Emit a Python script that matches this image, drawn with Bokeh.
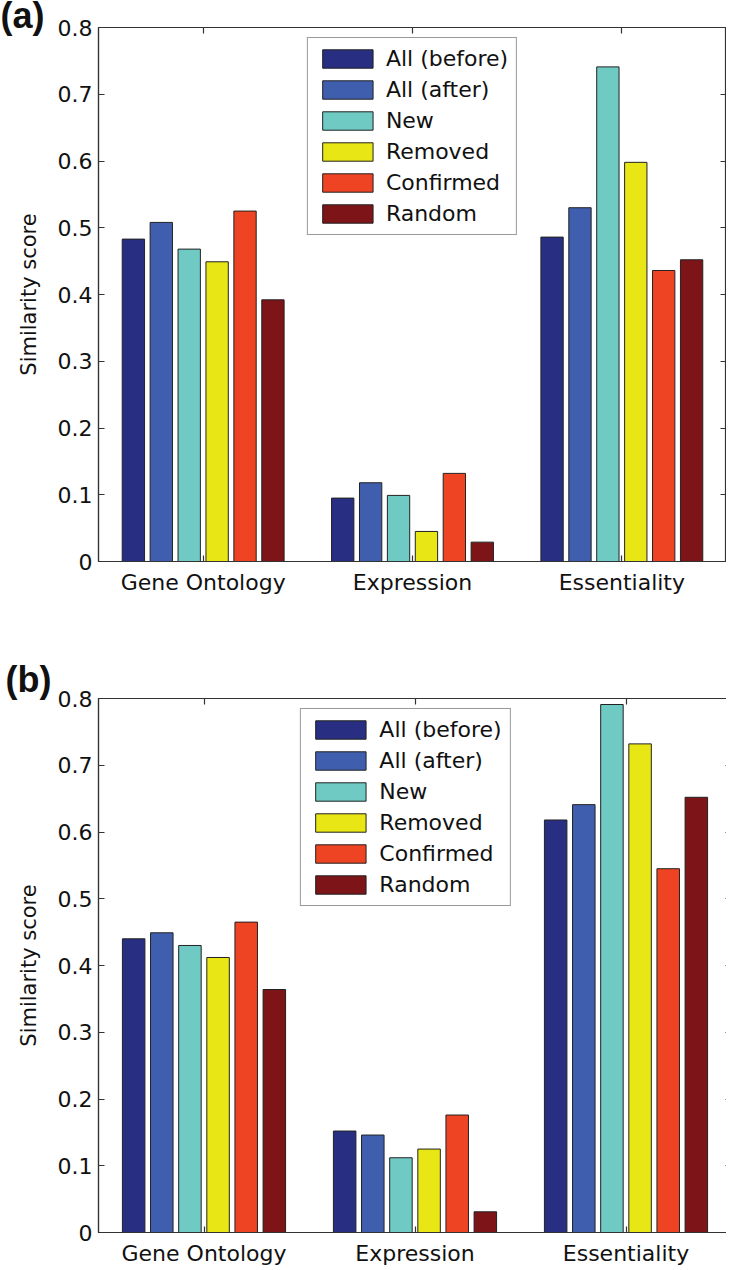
from bokeh.plotting import figure
from bokeh.models import (FixedTicker, LinearAxis, Range1d, Legend,
                          LegendItem, ColumnDataSource, Title)
from bokeh.layouts import column
from bokeh.transform import dodge
from bokeh.embed import file_html
from bokeh.resources import INLINE

# ---------------- data ----------------
categories = ["Gene Ontology", "Expression", "Essentiality"]
series = ["All (before)", "All (after)", "New", "Removed", "Confirmed", "Random"]
colors = ["#282f82", "#3f5fae", "#70cac4", "#e9e615", "#ee4423", "#7c1418"]

y_ticks = [0.0, 0.1, 0.2, 0.3, 0.4, 0.5, 0.6, 0.7, 0.8]
y_tick_labels = ["0", "0.1", "0.2", "0.3", "0.4", "0.5", "0.6", "0.7", "0.8"]

# panel (a): one list per category, values in series order
a_gene_ontology = [0.483, 0.508, 0.468, 0.449, 0.525, 0.392]
a_expression = [0.095, 0.118, 0.099, 0.045, 0.132, 0.029]
a_essentiality = [0.486, 0.530, 0.741, 0.598, 0.436, 0.452]

# panel (b)
b_gene_ontology = [0.440, 0.449, 0.430, 0.412, 0.465, 0.364]
b_expression = [0.152, 0.146, 0.112, 0.125, 0.176, 0.031]
b_essentiality = [0.618, 0.641, 0.791, 0.732, 0.545, 0.652]

FONT = "DejaVu Sans"
AX = "#333333"
FRAME_H = 534


def make_panel(cat_values, tag, frame_left, frame_width, top_border,
               bottom_border, tag_standoff, tag_valign):
    p = figure(output_backend="svg", toolbar_location=None,
               frame_width=frame_width, frame_height=FRAME_H,
               x_range=Range1d(0.5, 3.5), y_range=Range1d(0, 0.8),
               x_axis_type=None, y_axis_type=None,
               min_border_left=frame_left, min_border_right=0,
               min_border_top=top_border, min_border_bottom=bottom_border)
    p.grid.visible = False
    p.outline_line_color = AX
    p.outline_line_width = 1.2
    p.background_fill_color = "white"
    p.border_fill_color = "white"

    xpos = list(range(1, len(categories) + 1))
    cat_ticker = FixedTicker(ticks=xpos)
    y_ticker = FixedTicker(ticks=y_ticks)

    def style(ax, labels=True):
        ax.axis_line_color = AX
        ax.axis_line_width = 1.2
        ax.major_tick_line_color = AX
        ax.major_tick_line_width = 1.2
        ax.major_tick_in = 6
        ax.major_tick_out = 0
        ax.minor_tick_line_color = None
        if labels:
            ax.major_label_text_font = FONT
            ax.major_label_text_font_size = "22px"
            ax.major_label_text_color = "#111111"
        else:
            ax.major_label_text_font_size = "0px"
            ax.major_label_standoff = 0

    bottom = LinearAxis(ticker=cat_ticker,
                        major_label_overrides={x: c for x, c in zip(xpos, categories)})
    style(bottom)
    bottom.major_label_standoff = 8
    p.add_layout(bottom, "below")

    left = LinearAxis(ticker=y_ticker,
                      major_label_overrides={t: l for t, l in zip(y_ticks, y_tick_labels)},
                      axis_label="Similarity score")
    style(left)
    left.major_label_standoff = 6
    left.axis_label_text_font = FONT
    left.axis_label_text_font_size = "21px"
    left.axis_label_text_font_style = "normal"
    left.axis_label_text_color = "#111111"
    left.axis_label_standoff = 14
    p.add_layout(left, "left")

    top = LinearAxis(ticker=cat_ticker)
    style(top, labels=False)
    p.add_layout(top, "above")

    right = LinearAxis(ticker=y_ticker)
    style(right, labels=False)
    p.add_layout(right, "right")

    n = len(series)
    group = 0.8
    step = group / n
    width = step * 0.8
    items = []
    for i, (name, col) in enumerate(zip(series, colors)):
        tops = [vals[i] for vals in cat_values]
        src = ColumnDataSource(dict(x=xpos, top=tops))
        off = (i - (n - 1) / 2) * step
        r = p.vbar(x=dodge("x", off), top="top", bottom=0, width=width,
                   source=src, fill_color=col, line_color="#222222",
                   line_width=1)
        items.append(LegendItem(label=name, renderers=[r]))

    legend = Legend(items=items, location="top_center", margin=10,
                    padding=8, spacing=6, glyph_width=63, glyph_height=23,
                    label_height=23, label_standoff=7,
                    label_text_font=FONT, label_text_font_size="22px",
                    label_text_color="#111111",
                    border_line_color=AX, border_line_width=1.2,
                    background_fill_color="white", background_fill_alpha=1)
    p.add_layout(legend)

    t = Title(text=tag, align="left", offset=-frame_left, standoff=tag_standoff,
              vertical_align=tag_valign,
              text_font="Liberation Sans", text_font_style="bold",
              text_font_size="36px", text_color="#111111")
    p.add_layout(t, "above")
    return p


pa = make_panel([a_gene_ontology, a_expression, a_essentiality], "(a)",
                frame_left=98, frame_width=628, top_border=27,
                bottom_border=97, tag_standoff=-21, tag_valign="top")
pb = make_panel([b_gene_ontology, b_expression, b_essentiality], "(b)",
                frame_left=93, frame_width=633, top_border=30,
                bottom_border=35, tag_standoff=-3, tag_valign="bottom")

layout = column(pa, pb, spacing=0)
open("out.html", "w").write(file_html(layout, INLINE))
